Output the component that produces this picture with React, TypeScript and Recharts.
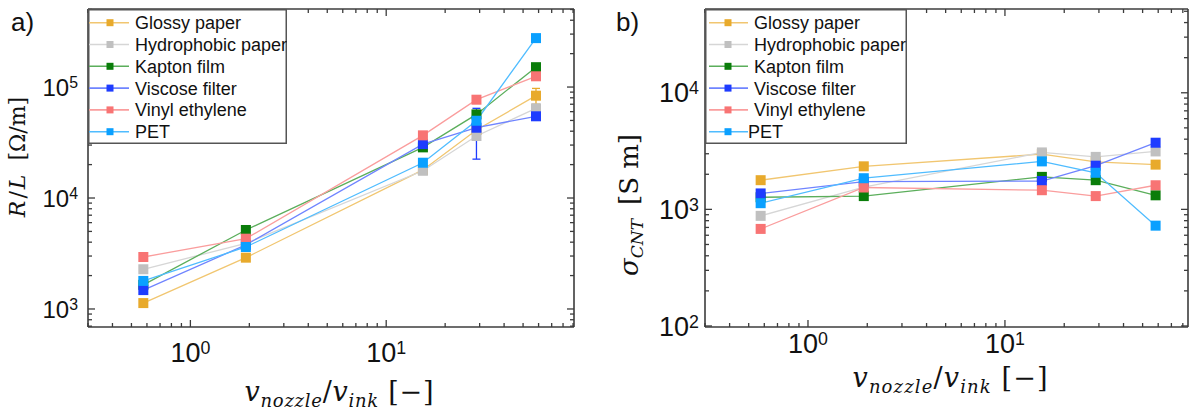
import React from 'react';
import { LineChart, Line, XAxis, YAxis, Legend, ErrorBar } from 'recharts';

const AXIS_COLOR = '#3c3c3c';
const TICK_FONT = "'Liberation Sans', Arial, sans-serif";
const MATH_FONT = "'DejaVu Serif', serif";

// x positions (v_nozzle / v_ink)
const xValues = [0.575, 1.92, 15.4, 28.9, 58.2];

const seriesNames = ['Glossy paper', 'Hydrophobic paper', 'Kapton film', 'Viscose filter', 'Vinyl ethylene', 'PET'];
const seriesKeys = ['glossy', 'hydro', 'kapton', 'viscose', 'vinyl', 'pet'];
const markerColors = ['#E8AA2C', '#C0C0C0', '#0A7D0A', '#1E3CFF', '#F87474', '#0AA0FF'];
const lineColors = ['#F1C670', '#D6D6D6', '#5BAE5B', '#6F84FF', '#FA9D9D', '#4FBCFF'];

// panel a) R/L [Ohm/m]
const glossyRL = [1130, 2900, 17900, 41000, 83600];
const hydroRL = [2280, 3900, 17600, 36200, 64300];
const kaptonRL = [1650, 5150, 28600, 56700, 151000];
const viscoseRL = [1480, 3780, 30600, 43000, 54500];
const vinylRL = [2940, 4300, 36700, 76900, 125000];
const petRL = [1790, 3620, 20800, 49700, 276000];
const viscoseRLErr = [null, null, null, [20600, 21300], null];
const glossyRLErr = [null, null, null, null, [13600, 13600]];

// panel b) sigma_CNT [S m]
const glossySigma = [1780, 2340, 2980, 2560, 2420];
const hydroSigma = [880, 1550, 3080, 2820, 3140];
const kaptonSigma = [1270, 1300, 1900, 1780, 1320];
const viscoseSigma = [1370, 1730, 1750, 2370, 3730];
const vinylSigma = [680, 1540, 1460, 1300, 1610];
const petSigma = [1130, 1850, 2580, 2060, 725];

// ticks
const xTicksA = [0.3, 0.4, 0.5, 0.6, 0.7, 0.8, 0.9, 1, 2, 3, 4, 5, 6, 7, 8, 9, 10, 20, 30, 40, 50, 60, 70, 80, 90];
const xTicksB = [0.3, 0.4, 0.5, 0.6, 0.7, 0.8, 0.9, 1, 2, 3, 4, 5, 6, 7, 8, 9, 10, 20, 30, 40, 50, 60, 70, 80];
const yTicksA = [700, 800, 900, 1000, 2000, 3000, 4000, 5000, 6000, 7000, 8000, 9000, 10000, 20000, 30000, 40000, 50000, 60000, 70000, 80000, 90000, 100000, 200000, 300000, 400000, 500000];
const yTicksB = [100, 200, 300, 400, 500, 600, 700, 800, 900, 1000, 2000, 3000, 4000, 5000, 6000, 7000, 8000, 9000, 10000, 20000, 30000, 40000, 50000];

const dataA = xValues.map((x, i) => ({
  x,
  glossy: glossyRL[i],
  hydro: hydroRL[i],
  kapton: kaptonRL[i],
  viscose: viscoseRL[i],
  vinyl: vinylRL[i],
  pet: petRL[i],
  viscoseErr: viscoseRLErr[i],
  glossyErr: glossyRLErr[i],
}));

const dataB = xValues.map((x, i) => ({
  x,
  glossy: glossySigma[i],
  hydro: hydroSigma[i],
  kapton: kaptonSigma[i],
  viscose: viscoseSigma[i],
  vinyl: vinylSigma[i],
  pet: petSigma[i],
}));

const isMajor = (v: number) => {
  const l = Math.log10(v);
  return Math.abs(l - Math.round(l)) < 1e-9;
};
const expOf = (v: number) => Math.round(Math.log10(v));

function Pow10({ x, y, v, fontSize, anchor }: any) {
  return (
    <text x={x} y={y} textAnchor={anchor} fontFamily={TICK_FONT} fontSize={fontSize} fill="#111">
      10
      <tspan dy={-fontSize * 0.3} fontSize={fontSize * 0.66}>
        {expOf(v)}
      </tspan>
    </text>
  );
}

function BottomTick(props: any) {
  const { x, y, payload, labelDy, fontSize } = props;
  const v = payload.value;
  const major = isMajor(v);
  return (
    <g>
      <line x1={x} x2={x} y1={y} y2={y - (major ? 7 : 4)} stroke={AXIS_COLOR} strokeWidth={1.3} />
      {major && <Pow10 x={x} y={y + labelDy} v={v} fontSize={fontSize} anchor="middle" />}
    </g>
  );
}

function TopTick(props: any) {
  const { x, y, payload } = props;
  const major = isMajor(payload.value);
  return <line x1={x} x2={x} y1={y} y2={y + (major ? 7 : 4)} stroke={AXIS_COLOR} strokeWidth={1.3} />;
}

function LeftTick(props: any) {
  const { x, y, payload, gap, fontSize } = props;
  const v = payload.value;
  const major = isMajor(v);
  return (
    <g>
      <line x1={x} x2={x + (major ? 7 : 4)} y1={y} y2={y} stroke={AXIS_COLOR} strokeWidth={1.3} />
      {major && <Pow10 x={x - gap} y={y + fontSize * 0.36} v={v} fontSize={fontSize} anchor="end" />}
    </g>
  );
}

function RightTick(props: any) {
  const { x, y, payload } = props;
  const major = isMajor(payload.value);
  return <line x1={x} x2={x - (major ? 7 : 4)} y1={y} y2={y} stroke={AXIS_COLOR} strokeWidth={1.3} />;
}

function SquareDot(props: any) {
  const { cx, cy, color, size } = props;
  if (cx == null || cy == null) return <g />;
  return <rect x={cx - size / 2} y={cy - size / 2} width={size} height={size} fill={color} />;
}

function LegendBox({ width, height, lineX1, lineX2, markerX, textX, petTextX }: any) {
  return (
    <svg width={width} height={height} style={{ display: 'block' }}>
      <rect x={0.75} y={0.75} width={width - 1.5} height={height - 1.5} fill="#fff" stroke="#555" strokeWidth={1.5} />
      {seriesNames.map((name, i) => {
        const cy = 13.7 + i * 21.8;
        return (
          <g key={name}>
            <line x1={lineX1} x2={lineX2} y1={cy} y2={cy} stroke={lineColors[i]} strokeWidth={1.6} />
            <rect x={markerX - 3.5} y={cy - 3.5} width={7} height={7} fill={markerColors[i]} />
            <text
              x={i === 5 && petTextX ? petTextX : textX}
              y={cy + 6.5}
              fontFamily={TICK_FONT}
              fontSize={18}
              fill="#111"
            >
              {name}
            </text>
          </g>
        );
      })}
    </svg>
  );
}

function Panel({ data, width, margin, xDomain, yDomain, xTicks, yTicks, xLabelDy, xFont, yGap, yFont, legend, errors }: any) {
  const axisLine = { stroke: AXIS_COLOR, strokeWidth: 1.6 };
  return (
    <LineChart width={width} height={410} data={data} margin={margin}>
      <XAxis
        dataKey="x"
        type="number"
        scale="log"
        domain={xDomain}
        allowDataOverflow
        ticks={xTicks}
        interval={0}
        height={1}
        tickSize={0}
        tickMargin={0}
        tickLine={false}
        axisLine={axisLine}
        tick={(p: any) => <BottomTick {...p} labelDy={xLabelDy} fontSize={xFont} />}
      />
      <XAxis
        xAxisId="top"
        orientation="top"
        dataKey="x"
        type="number"
        scale="log"
        domain={xDomain}
        allowDataOverflow
        ticks={xTicks}
        interval={0}
        height={1}
        tickSize={0}
        tickMargin={0}
        tickLine={false}
        axisLine={axisLine}
        tick={(p: any) => <TopTick {...p} />}
      />
      <YAxis
        type="number"
        scale="log"
        domain={yDomain}
        allowDataOverflow
        ticks={yTicks}
        interval={0}
        width={1}
        tickSize={0}
        tickMargin={0}
        tickLine={false}
        axisLine={axisLine}
        tick={(p: any) => <LeftTick {...p} gap={yGap} fontSize={yFont} />}
      />
      <YAxis
        yAxisId="right"
        orientation="right"
        type="number"
        scale="log"
        domain={yDomain}
        allowDataOverflow
        ticks={yTicks}
        interval={0}
        width={1}
        tickSize={0}
        tickMargin={0}
        tickLine={false}
        axisLine={axisLine}
        tick={(p: any) => <RightTick {...p} />}
      />
      {seriesKeys.map((key, i) => (
        <Line
          key={key}
          type="linear"
          dataKey={key}
          name={seriesNames[i]}
          stroke={lineColors[i]}
          strokeWidth={1.3}
          isAnimationActive={false}
          activeDot={false}
          dot={(p: any) => <SquareDot key={`${key}-${p.index}`} {...p} color={markerColors[i]} size={10} />}
        >
          {errors && errors[key] && (
            <ErrorBar dataKey={errors[key]} width={4} strokeWidth={1.3} stroke={markerColors[i]} direction="y" />
          )}
        </Line>
      ))}
      <Legend
        layout="vertical"
        align="center"
        verticalAlign="middle"
        wrapperStyle={{ left: legend.left, top: legend.top, width: legend.width, height: legend.height }}
        content={() => (
          <LegendBox
            width={legend.width}
            height={legend.height}
            lineX1={legend.lineX1}
            lineX2={legend.lineX2}
            markerX={legend.markerX}
            textX={legend.textX}
            petTextX={legend.petTextX}
          />
        )}
      />
    </LineChart>
  );
}

export default function App() {
  return (
    <div style={{ position: 'fixed', left: 0, top: 0, width: 1198, height: 410, background: '#fff', overflow: 'hidden' }}>
      <div style={{ position: 'absolute', left: 0, top: 0 }}>
        <Panel
          data={dataA}
          width={600}
          margin={{ top: 8, left: 87, right: 25, bottom: 82 }}
          xDomain={[0.3, 91]}
          yDomain={[688, 505000]}
          xTicks={xTicksA}
          yTicks={yTicksA}
          xLabelDy={35}
          xFont={27}
          yGap={10}
          yFont={24}
          errors={{ viscose: 'viscoseErr', glossy: 'glossyErr' }}
          legend={{ left: 88, top: 9, width: 199, height: 135, lineX1: 1, lineX2: 41, markerX: 22, textX: 47 }}
        />
      </div>
      <div style={{ position: 'absolute', left: 600, top: 0 }}>
        <Panel
          data={dataB}
          width={598}
          margin={{ top: 8, left: 104, right: 9, bottom: 82 }}
          xDomain={[0.3, 85]}
          yDomain={[98, 52300]}
          xTicks={xTicksB}
          yTicks={yTicksB}
          xLabelDy={26}
          xFont={27}
          yGap={6}
          yFont={27}
          legend={{ left: 105, top: 9, width: 202, height: 135, lineX1: 4, lineX2: 43, markerX: 23, textX: 49, petTextX: 43 }}
        />
      </div>
      <svg
        width={1198}
        height={410}
        style={{ position: 'absolute', left: 0, top: 0, pointerEvents: 'none' }}
      >
        <text x={11} y={31} fontFamily={TICK_FONT} fontSize={26} fill="#111">a)</text>
        <text x={616} y={31} fontFamily={TICK_FONT} fontSize={26} fill="#111">b)</text>
        <text transform="translate(25,157) rotate(-90)" textAnchor="middle" fontFamily={MATH_FONT} fontSize={22} fill="#111">
          <tspan fontStyle="italic">R</tspan>
          <tspan dx={2}>/</tspan>
          <tspan dx={2} fontStyle="italic">L</tspan>
          <tspan dx={14}>[Ω/m]</tspan>
        </text>
        <text transform="translate(638,205) rotate(-90)" textAnchor="middle" fontFamily={MATH_FONT} fontSize={26} fill="#111">
          <tspan fontStyle="italic">σ</tspan>
          <tspan fontStyle="italic" fontSize={17} dy={5}>CNT</tspan>
          <tspan dx={14} dy={-5}>[S m]</tspan>
        </text>
        <text x={339} y={401} textAnchor="middle" fontFamily={MATH_FONT} fontSize={27} fill="#111" textLength={189} lengthAdjust="spacing">
          <tspan fontStyle="italic">v</tspan>
          <tspan fontStyle="italic" fontSize={18} dy={6}>nozzle</tspan>
          <tspan dy={-6}>/</tspan>
          <tspan fontStyle="italic">v</tspan>
          <tspan fontStyle="italic" fontSize={18} dy={6}>ink</tspan>
          <tspan dy={-6}>{'  [−]'}</tspan>
        </text>
        <text x={950} y={387} textAnchor="middle" fontFamily={MATH_FONT} fontSize={27} fill="#111" textLength={195} lengthAdjust="spacing">
          <tspan fontStyle="italic">v</tspan>
          <tspan fontStyle="italic" fontSize={18} dy={6}>nozzle</tspan>
          <tspan dy={-6}>/</tspan>
          <tspan fontStyle="italic">v</tspan>
          <tspan fontStyle="italic" fontSize={18} dy={6}>ink</tspan>
          <tspan dy={-6}>{'  [−]'}</tspan>
        </text>
      </svg>
    </div>
  );
}
